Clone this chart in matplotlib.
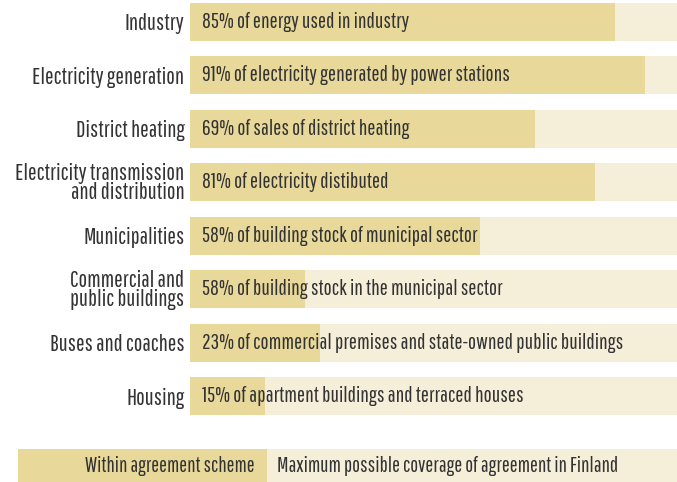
import matplotlib.pyplot as plt

plt.rcParams['font.family'] = ['Pathway Gothic One', 'DejaVu Sans']

categories = ["Industry", "Electricity generation", "District heating",
              "Electricity transmission\nand distribution", "Municipalities",
              "Commercial and\npublic buildings", "Buses and coaches", "Housing"]
within = [85, 91, 69, 81, 58, 23, 26, 15]
max_cov = [100] * 8
bar_texts = ["85% of energy used in industry",
             "91% of electricity generated by power stations",
             "69% of sales of district heating",
             "81% of electricity distibuted",
             "58% of building stock of municipal sector",
             "58% of building stock in the municipal sector",
             "23% of commercial premises and state-owned public buildings",
             "15% of apartment buildings and terraced houses"]
legend_labels = ["Within agreement scheme", "Maximum possible coverage of agreement in Finland"]

DARK = "#e8d99b"
LIGHT = "#f5eed9"
TXT = "#333333"

W, H = 677, 482
fig = plt.figure(figsize=(W / 100, H / 100), dpi=100)

ax = fig.add_axes([190 / W, 1 - 415 / H, 487 / W, 412 / H])
y = list(range(len(categories)))
ax.barh(y, max_cov, height=0.71, color=LIGHT)
ax.barh(y, within, height=0.71, color=DARK)
ax.set_xlim(0, 97.4)
ax.set_ylim(len(categories) - 1 + 0.355, -0.355)
for yi, t in zip(y, bar_texts):
    ax.text(2.4, yi, t, va="center", ha="left", fontsize=15.5, color=TXT)
ax.set_yticks(y)
ax.set_yticklabels(categories, fontsize=16.5, color=TXT, linespacing=0.85)
ax.tick_params(axis="y", length=0, pad=4)
ax.set_xticks([])
for s in ax.spines.values():
    s.set_visible(False)

# legend strip
lax = fig.add_axes([0, 0, 1, 33 / H])
lax.barh([0], [267 - 18], left=[18], height=1, color=DARK)
lax.barh([0], [W - 267], left=[267], height=1, color=LIGHT)
lax.set_xlim(0, W)
lax.set_ylim(-0.5, 0.5)
lax.text(255, 0, legend_labels[0], ha="right", va="center", fontsize=15, color=TXT)
lax.text(277, 0, legend_labels[1], ha="left", va="center", fontsize=15.2, color=TXT)
lax.axis("off")

fig.savefig("out.png", dpi=100)
